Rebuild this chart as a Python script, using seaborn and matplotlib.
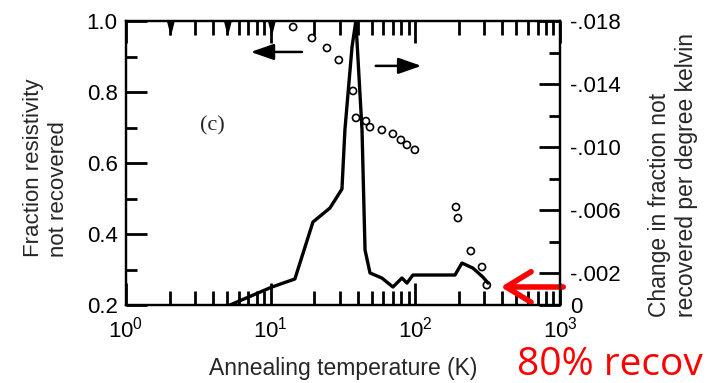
import matplotlib
matplotlib.use('Agg')
import matplotlib.pyplot as plt
import matplotlib.ticker as mticker
import seaborn as sns
import pandas as pd

# open circles: fraction of resistivity not recovered (left axis)
circle_T = [14.3, 19.3, 24.5, 29.6, 37.1, 38.9, 45.6, 48.6, 58.7, 70.0,
            79.5, 87.5, 99.3, 191, 197, 242, 289, 312]
circle_frac = [0.983, 0.952, 0.924, 0.890, 0.803, 0.727, 0.718, 0.701, 0.693,
               0.682, 0.665, 0.651, 0.637, 0.476, 0.445, 0.352, 0.307, 0.256]

# solid line: change in fraction not recovered per kelvin (right axis)
line_T = [5.23, 10.2, 14.7, 19.6, 25.7, 31.1, 32.6, 36.5, 38.8, 42.8, 44.9,
          48.6, 58.7, 70.0, 80.8, 87.5, 96.2, 188, 210, 250, 293, 318]
line_rate = [0.0, 0.00114, 0.00165, 0.00526, 0.00615, 0.00735, 0.0111,
             0.01635, 0.018, 0.0111, 0.00349, 0.00203, 0.00171, 0.00114,
             0.00171, 0.00139, 0.0019, 0.0019, 0.00266, 0.00234, 0.00177,
             0.00139]

# annealing stage markers on the top axis
triangle_T = [2, 5, 10]

left_ticks = [0.2, 0.4, 0.6, 0.8, 1.0]
left_labels = ['0.2', '0.4', '0.6', '0.8', '1.0']
left_minor = [0.3, 0.5, 0.7, 0.9]
right_ticks = [0, 0.002, 0.006, 0.010, 0.014, 0.018]
right_labels = ['0', '-.002', '-.006', '-.010', '-.014', '-.018']
right_minor = [0.004, 0.008, 0.012, 0.016]

sns.set_style('ticks')
plt.rcParams['font.family'] = ['Liberation Sans', 'DejaVu Sans']
plt.rcParams['mathtext.default'] = 'regular'

df_circ = pd.DataFrame({'T': circle_T, 'frac': circle_frac})
df_line = pd.DataFrame({'T': line_T, 'rate': line_rate})

fig = plt.figure(figsize=(7.11, 3.83), dpi=100)
ax = fig.add_axes([126 / 711, 78 / 383, 434 / 711, 284 / 383])
ax.set_xscale('log')
ax2 = ax.twinx()

sns.scatterplot(data=df_circ, x='T', y='frac', ax=ax, marker='o', s=26,
                color='white', edgecolor='black', linewidth=1.2, zorder=3,
                clip_on=False)
ax.collections[0].set_facecolor('none')

sns.lineplot(data=df_line, x='T', y='rate', ax=ax2, sort=False,
             estimator=None, color='black', linewidth=2.4)

tri = [(-0.7, 0), (0.7, 0), (0, -2.8)]
ax.plot(triangle_T, [1.0] * len(triangle_T), linestyle='none', marker=tri,
        markersize=20, color='black', transform=ax.get_xaxis_transform(),
        clip_on=False, zorder=4)

ax.set_xlim(1, 1000)
ax.set_ylim(0.2, 1.0)
ax2.set_ylim(0, 0.018)

ax.xaxis.set_major_locator(mticker.LogLocator(base=10))
ax.xaxis.set_minor_locator(mticker.LogLocator(base=10, subs=range(2, 10)))
ax.xaxis.set_minor_formatter(mticker.NullFormatter())
ax.set_yticks(left_ticks)
ax.set_yticklabels(left_labels)
ax.set_yticks(left_minor, minor=True)
ax2.set_yticks(right_ticks)
ax2.set_yticklabels(right_labels)
ax2.set_yticks(right_minor, minor=True)

tick_kw = dict(direction='in', width=2, color='black', labelcolor='black')
ax.tick_params(axis='x', which='major', length=16, top=True, bottom=True,
               labelsize=16, pad=8, **tick_kw)
ax.tick_params(axis='x', which='minor', length=10, top=True, bottom=True,
               **tick_kw)
ax.tick_params(axis='y', which='major', length=15, left=True, right=False,
               labelsize=16, pad=6, **tick_kw)
ax.tick_params(axis='y', which='minor', length=8, left=True, right=False,
               **tick_kw)
ax2.tick_params(axis='y', which='major', length=15, right=True, left=False,
                labelsize=16, pad=7, **tick_kw)
ax2.tick_params(axis='y', which='minor', length=8, right=True, left=False,
                **tick_kw)
ax.set_axisbelow(False)
ax2.set_axisbelow(False)

for a in (ax, ax2):
    for sp in a.spines.values():
        sp.set_linewidth(1.6)
        sp.set_color('black')
        sp.set_visible(True)
ax.set_xlabel('')
ax.set_ylabel('')
ax2.set_xlabel('')
ax2.set_ylabel('')

# direction arrows and panel label
ax.annotate('', xy=(0.281, 0.891), xytext=(0.412, 0.891), xycoords='axes fraction',
            arrowprops=dict(arrowstyle='-|>,head_length=1.0,head_width=0.35',
                            color='black', lw=1.8, mutation_scale=14))
ax.annotate('', xy=(0.687, 0.842), xytext=(0.569, 0.842), xycoords='axes fraction',
            arrowprops=dict(arrowstyle='-|>,head_length=1.0,head_width=0.35',
                            color='black', lw=1.8, mutation_scale=14))
ax.text(0.20, 0.63, '(c)', transform=ax.transAxes, ha='center', va='center',
        fontsize=16, family='Liberation Serif')

# axis titles
fig.text(46 / 711, 1 - 257 / 383, 'Fraction resistivity\nnot recovered',
         rotation=90, ha='center', va='bottom', multialignment='left',
         fontsize=16, linespacing=1.25)
fig.text(673 / 711, 1 - 317 / 383, 'Change in fraction not\nrecovered per degree kelvin',
         rotation=90, ha='center', va='bottom', multialignment='left',
         fontsize=16.5, linespacing=1.25)
fig.text(343 / 711, 0.02, 'Annealing temperature (K)', ha='center',
         va='baseline', fontsize=16.5)

# red annotation
fig.text(517 / 711, 0.02, '80% recov', ha='left', va='baseline',
         fontsize=28, color='#ff0000', family=['Open Sans', 'DejaVu Sans'])
ax.annotate('', xy=(498 / 711, 1 - 287 / 383), xytext=(566 / 711, 1 - 287 / 383),
            xycoords='figure fraction',
            arrowprops=dict(arrowstyle='->,head_length=0.9,head_width=0.55',
                            color='#ff0000', lw=4, mutation_scale=20))

fig.savefig('out.png', dpi=100)
